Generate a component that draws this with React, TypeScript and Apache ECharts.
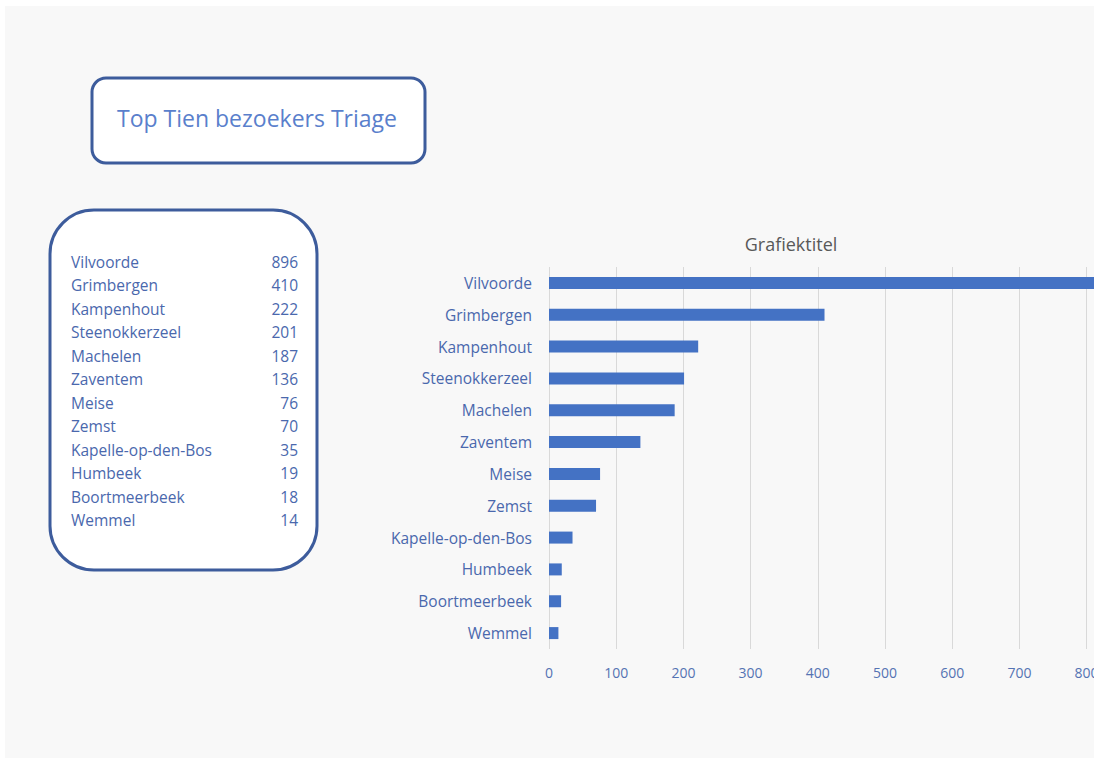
import React, { useEffect, useRef } from "react";
import * as echarts from "echarts";

const boxTitle = "Top Tien bezoekers Triage";
const chartTitle = "Grafiektitel";
const towns = [
  "Vilvoorde",
  "Grimbergen",
  "Kampenhout",
  "Steenokkerzeel",
  "Machelen",
  "Zaventem",
  "Meise",
  "Zemst",
  "Kapelle-op-den-Bos",
  "Humbeek",
  "Boortmeerbeek",
  "Wemmel",
];
const visitors = [896, 410, 222, 201, 187, 136, 76, 70, 35, 19, 18, 14];
const xTicks = [0, 100, 200, 300, 400, 500, 600, 700, 800, 900, 1000];

const FONT = "'Open Sans', 'Noto Sans', sans-serif";
const BLUE_TEXT = "#4a68ad";
const BORDER = "#3d5c9c";
const CHART_W = 1240;

export default function App() {
  const ref = useRef<HTMLDivElement>(null);
  useEffect(() => {
    if (!ref.current) return;
    const chart = echarts.init(ref.current, undefined, { renderer: "svg" });

    const listTexts: any[] = [];
    towns.forEach((t, i) => {
      const y = 262 + i * 23.45;
      listTexts.push({
        type: "text",
        x: 71,
        y,
        style: {
          text: t,
          fill: BLUE_TEXT,
          font: `15.5px ${FONT}`,
          textAlign: "left",
          textVerticalAlign: "middle",
        },
        z: 10,
      });
      listTexts.push({
        type: "text",
        x: 298,
        y,
        style: {
          text: String(visitors[i]),
          fill: BLUE_TEXT,
          font: `15.5px ${FONT}`,
          textAlign: "right",
          textVerticalAlign: "middle",
        },
        z: 10,
      });
    });

    chart.setOption({
      animation: false,
      backgroundColor: "#ffffff",
      title: {
        text: chartTitle,
        left: 786,
        top: 230,
        textAlign: "center",
        textStyle: {
          color: "#595959",
          fontSize: 18,
          fontWeight: "normal",
          fontFamily: FONT,
        },
      },
      graphic: [
        {
          type: "rect",
          shape: { x: 5, y: 6, width: 1094, height: 752 },
          style: { fill: "#f8f8f8" },
          z: -10,
          silent: true,
        },
        {
          type: "rect",
          shape: { x: 92, y: 78, width: 333, height: 85, r: 14 },
          style: { fill: "#ffffff", stroke: BORDER, lineWidth: 3 },
          z: 5,
        },
        {
          type: "text",
          x: 257,
          y: 118,
          style: {
            text: boxTitle,
            fill: "#5a7fcc",
            font: `23px ${FONT}`,
            textAlign: "center",
            textVerticalAlign: "middle",
          },
          z: 10,
        },
        {
          type: "rect",
          shape: { x: 50, y: 210, width: 267, height: 360, r: 44 },
          style: { fill: "#ffffff", stroke: BORDER, lineWidth: 3 },
          z: 5,
        },
        ...listTexts,
      ],
      grid: {
        left: 549,
        top: 267,
        height: 382,
        width: 676,
        containLabel: false,
      },
      xAxis: {
        type: "value",
        min: xTicks[0],
        max: xTicks[xTicks.length - 1],
        interval: 100,
        axisLine: { show: false },
        axisTick: { show: false },
        axisLabel: {
          color: "#5573b3",
          fontSize: 14,
          fontFamily: FONT,
          margin: 16,
          formatter: (v: number) => String(v),
        },
        splitLine: { lineStyle: { color: "#d9d9d9", width: 1 } },
      },
      yAxis: {
        type: "category",
        data: towns,
        inverse: true,
        axisLine: { show: false },
        axisTick: { show: false },
        axisLabel: {
          color: BLUE_TEXT,
          fontSize: 15.5,
          fontFamily: FONT,
          margin: 17,
        },
        splitLine: { show: false },
      },
      series: [
        {
          type: "bar",
          data: visitors,
          barWidth: 12,
          itemStyle: { color: "#4472c4" },
        },
      ],
    });
    return () => chart.dispose();
  }, []);
  return (
    <div
      style={{
        position: "absolute",
        left: 0,
        top: 0,
        width: 1094,
        height: 758,
        overflow: "hidden",
      }}
    >
      <div ref={ref} style={{ width: CHART_W, height: 758 }} />
    </div>
  );
}
